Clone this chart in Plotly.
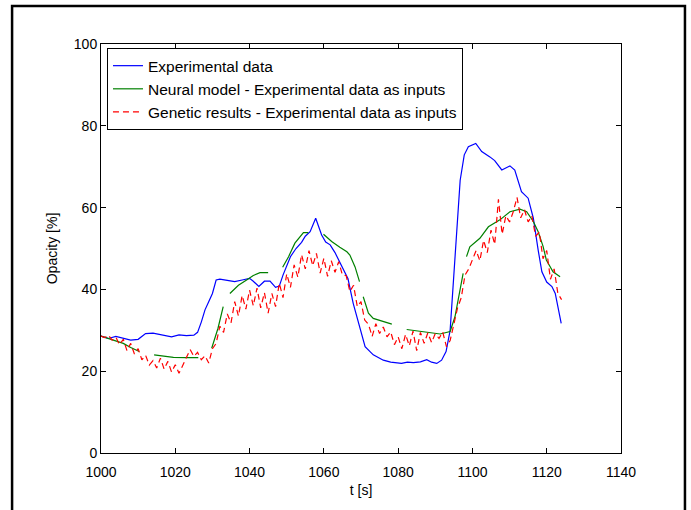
import plotly.graph_objects as go

# ---------------- data ----------------
exp_t = [1000, 1002, 1004, 1006, 1008, 1010, 1012, 1014, 1016, 1018, 1019, 1021, 1023, 1025,
         1026, 1027, 1028, 1029, 1030, 1031, 1032, 1034, 1036, 1038, 1040, 1041, 1042.5, 1044,
         1045.5, 1047, 1048, 1049, 1050, 1051, 1052.5, 1054, 1055, 1056.3, 1057.8, 1058.5,
         1059.4, 1060.5, 1061.7, 1063, 1064.3, 1065.5, 1066.5, 1067.9, 1069, 1069.7, 1071.1,
         1073.3, 1076, 1078, 1080.9, 1082.5, 1084.1, 1086, 1087.7, 1089, 1090.4, 1091.7,
         1092.9, 1094, 1094.9, 1095.8, 1096.7, 1097.8, 1098.9, 1100.9, 1102.5, 1104.7, 1106,
         1107.9, 1110.1, 1111.4, 1113.2, 1115, 1116.4, 1117.7, 1118.7, 1120, 1121.4, 1122.3,
         1123.9]
exp_y = [28.6, 28.0, 28.5, 28.0, 27.6, 27.8, 29.2, 29.3, 29.0, 28.6, 28.4, 28.9, 28.7, 28.8,
         29.5, 32.0, 35.0, 37.0, 39.0, 42.3, 42.5, 42.2, 41.9, 42.3, 42.7, 42.0, 40.7, 42.0,
         42.0, 40.5, 40.8, 43.5, 46.0, 48.0, 50.0, 51.5, 53.0, 54.1, 57.4, 55.5,
         53.3, 51.6, 50.9, 49.0, 46.5, 44.5, 42.6, 36.6, 33.0, 30.9, 26.0,
         24.0, 22.7, 22.2, 21.9, 22.2, 22.1, 22.3, 22.8, 22.2, 21.9, 22.7,
         24.8, 30.0, 42.3, 54.5, 66.7, 72.9, 74.9, 75.7, 73.7, 72.4, 71.5,
         69.2, 70.2, 69.2, 63.9, 62.3, 57.4, 49.6, 44.3, 41.8, 40.7, 39.0,
         31.7]

neural_t = [1000, 1002, 1004, 1006, 1008, 1010.3, None,
            1014.3, 1017, 1019.5, 1023, 1026.2, None,
            1029.8, 1031.5, 1032.9, None,
            1034.7, 1037, 1039.2, 1041, 1042.8, 1045, None,
            1048.9, 1050.5, 1052.2, 1054.5, 1055.8, None,
            1059.9, 1062.1, 1064.3, 1066.2, 1067, 1068.4, 1069.6, None,
            1070.6, 1072, 1073.3, 1076, 1078.3, None,
            1082.3, 1086.8, 1091.3, 1094, 1095.3, 1097.5, None,
            1098.4, 1099.3, 1102, 1104.3, 1107.4, 1110.1, 1112.8, 1114.6, 1116.4, 1117.7,
            1119, 1119.9, 1121.7, 1123.6]
neural_y = [28.6, 28.0, 27.4, 26.8, 25.8, 24.8, None,
            24.0, 23.6, 23.4, 23.3, 23.3, None,
            25.6, 30.5, 35.8, None,
            39.0, 41.0, 42.3, 43.4, 44.1, 44.1, None,
            45.4, 48.0, 51.3, 53.9, 53.9, None,
            53.5, 51.7, 50.3, 49.2, 48.4, 45.5, 41.9, None,
            38.2, 34.2, 32.9, 32.1, 31.5, None,
            30.2, 29.7, 29.1, 29.7, 33.3, 43.9, None,
            48.0, 50.4, 52.5, 55.3, 57.0, 59.0, 59.6, 59.0, 56.6, 54.1,
            50.6, 47.2, 44.3, 43.1]

genetic_t = list(range(1000, 1125))
genetic_y = [28.6, 28.2, 28.8, 27.6, 28.3, 26.5, 27.8, 25.0, 26.8, 24.2,
             25.5, 22.8, 23.9, 21.5, 22.6, 20.8, 23.2, 20.5, 22.4, 19.8,
             21.6, 19.5, 21.4, 23.5, 25.3, 23.6, 24.6, 22.8, 23.8, 22.0,
             25.5, 26.8, 31.0, 29.5, 34.0, 31.8, 37.0, 33.5, 38.5, 35.2,
             39.8, 36.0, 40.3, 35.5, 39.2, 34.2, 39.0, 35.8, 41.5, 38.0,
             43.8, 40.5, 46.0, 43.0, 48.5, 45.0, 49.5, 45.8, 48.8, 44.0,
             47.6, 43.2, 47.0, 44.2, 46.8, 43.5, 43.4, 39.5, 41.0, 35.8,
             37.0, 32.5, 31.5, 28.5, 31.6, 29.2, 30.8, 28.4, 29.6, 26.5,
             28.4, 25.5, 29.0, 26.2, 29.8, 25.0, 29.5, 26.8, 29.4, 27.0,
             29.2, 28.0, 29.6, 26.0, 27.5, 31.5, 35.5, 38.0, 43.5, 45.0,
             47.5, 49.5, 47.0, 52.0, 49.0, 54.5, 51.0, 62.0, 53.5, 58.0,
             56.5, 59.0, 62.5, 57.5, 59.5, 56.5, 58.0, 53.0, 54.0, 47.5,
             49.5, 42.5, 45.0, 39.0, 37.5]

x_ticks = [1000, 1020, 1040, 1060, 1080, 1100, 1120, 1140]
y_ticks = [0, 20, 40, 60, 80, 100]

FONT = "Liberation Sans, Arial, sans-serif"

fig = go.Figure()
fig.add_trace(go.Scatter(x=exp_t, y=exp_y, mode="lines", name="Experimental data",
                         line=dict(color="#0000ff", width=1.2)))
fig.add_trace(go.Scatter(x=neural_t, y=neural_y, mode="lines",
                         name="Neural model - Experimental data as inputs",
                         connectgaps=False, line=dict(color="#008000", width=1.2)))
fig.add_trace(go.Scatter(x=genetic_t, y=genetic_y, mode="lines",
                         name="Genetic results - Experimental data as inputs",
                         line=dict(color="#ff0000", width=1.2, dash="6px,4px")))

axis_common = dict(showline=True, linecolor="black", linewidth=1, mirror="ticks",
                   ticks="inside", ticklen=5, tickcolor="black", showgrid=False,
                   zeroline=False, tickfont=dict(family=FONT, size=14, color="black"))

fig.update_xaxes(range=[1000, 1140], tickvals=x_ticks, ticktext=[str(v) for v in x_ticks],
                 title=dict(text="t [s]", font=dict(family=FONT, size=14, color="black"), standoff=6),
                 ticklabelstandoff=6, **axis_common)
fig.update_yaxes(range=[0, 100], tickvals=y_ticks, ticktext=[str(v) for v in y_ticks],
                 title=dict(text="Opacity [%]", font=dict(family=FONT, size=14, color="black"), standoff=12),
                 **axis_common)

# outer figure frame
fig.add_shape(type="rect", xref="paper", yref="paper",
              x0=-0.171, x1=1.123, y0=-0.3, y1=1.093,
              line=dict(color="black", width=2.5), fillcolor="rgba(0,0,0,0)", layer="below")

fig.update_layout(
    width=691, height=510,
    margin=dict(l=101, r=70, t=44, b=57),
    paper_bgcolor="white", plot_bgcolor="white",
    font=dict(family=FONT, size=14, color="black"),
    showlegend=True,
    legend=dict(x=0.0115, y=0.99, xanchor="left", yanchor="top",
                bgcolor="white", bordercolor="black", borderwidth=1,
                font=dict(family=FONT, size=15.5, color="black"),
                tracegroupgap=0, itemwidth=30),
)

fig.write_html("out.html")
